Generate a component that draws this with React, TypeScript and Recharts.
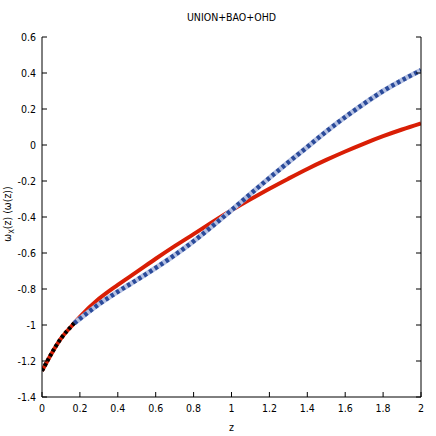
import { LineChart, Line, XAxis, YAxis } from "recharts";

const FONT = "'Liberation Sans Narrow', 'DejaVu Sans Condensed', 'Liberation Sans', sans-serif";

// redshift samples
const zValues = [0, 0.1, 0.17, 0.2, 0.3, 0.4, 0.5, 0.6, 0.7, 0.8, 0.9, 1.0, 1.1, 1.2, 1.3, 1.4, 1.5, 1.6, 1.7, 1.8, 1.9, 2.0];
// red solid curve
const redCurve = [-1.255, -1.075, -0.99, -0.955, -0.855, -0.777, -0.705, -0.632, -0.562, -0.495, -0.428, -0.363, -0.302, -0.243, -0.187, -0.133, -0.083, -0.036, 0.008, 0.049, 0.086, 0.12];
// blue dashed curve (starts where the black segment ends)
const blueCurve = [null, null, -0.99, -0.965, -0.885, -0.815, -0.75, -0.683, -0.612, -0.535, -0.45, -0.362, -0.272, -0.183, -0.096, -0.011, 0.075, 0.155, 0.23, 0.3, 0.36, 0.415];
// black dashed segment at low z
const blackCurve = [-1.255, -1.075, -0.99, null, null, null, null, null, null, null, null, null, null, null, null, null, null, null, null, null, null, null];

const xTicks = [0, 0.2, 0.4, 0.6, 0.8, 1, 1.2, 1.4, 1.6, 1.8, 2];
const yTicks = [-1.4, -1.2, -1, -0.8, -0.6, -0.4, -0.2, 0, 0.2, 0.4, 0.6];

const data = zValues.map((z, i) => ({
  z,
  red: redCurve[i],
  blue: blueCurve[i],
  black: blackCurve[i],
}));

const fmt = (v: number) => String(Math.round(v * 10) / 10);

const BottomTick = ({ x, y, payload }: any) => (
  <g>
    <line x1={x} x2={x} y1={y} y2={y - 5} stroke="#000" />
    <text x={x} y={y + 15} textAnchor="middle" fontSize={10.5} fontFamily={FONT} fill="#000">
      {fmt(payload.value)}
    </text>
  </g>
);

const TopTick = ({ x, y }: any) => <line x1={x} x2={x} y1={y} y2={y + 5} stroke="#000" />;

const LeftTick = ({ x, y, payload }: any) => (
  <g>
    <line x1={x} x2={x + 5} y1={y} y2={y} stroke="#000" />
    <text x={x - 6} y={y + 4} textAnchor="end" fontSize={10.5} fontFamily={FONT} fill="#000">
      {fmt(payload.value)}
    </text>
  </g>
);

const RightTick = ({ x, y }: any) => <line x1={x} x2={x - 5} y1={y} y2={y} stroke="#000" />;

export default function App() {
  return (
    <div style={{ position: "absolute", left: 0, top: 0, width: 436, height: 436, background: "#fff" }}>
      <div
        style={{
          position: "absolute",
          left: 0,
          width: 463,
          top: 11,
          textAlign: "center",
          fontFamily: FONT,
          fontSize: 10.5,
        }}
      >
        UNION+BAO+OHD
      </div>
      <div
        style={{
          position: "absolute",
          left: 0,
          width: 463,
          top: 421,
          textAlign: "center",
          fontFamily: FONT,
          fontSize: 10.5,
        }}
      >
        z
      </div>
      <svg style={{ position: "absolute", left: 0, top: 0 }} width={30} height={436}>
        <text
          x={11}
          y={214}
          transform="rotate(-90, 11, 214)"
          textAnchor="middle"
          fontFamily={FONT}
          fontSize={10.5}
          fill="#000"
        >
          ω<tspan fontSize={7.5} dy={3}>X</tspan>
          <tspan dy={-3}>(z) (ω(z))</tspan>
        </text>
      </svg>
      <div style={{ position: "absolute", left: 0, top: 0 }}>
        <LineChart width={436} height={436} data={data} margin={{ top: 37, right: 10, bottom: 9, left: 0 }}>
          <XAxis
            dataKey="z"
            type="number"
            domain={[0, 2]}
            ticks={xTicks}
            allowDataOverflow
            height={30}
            tickSize={0}
            tickMargin={0}
            tickLine={false}
            axisLine={{ stroke: "#000" }}
            tick={<BottomTick />}
            interval={0}
          />
          <XAxis
            xAxisId="top"
            orientation="top"
            dataKey="z"
            type="number"
            domain={[0, 2]}
            ticks={xTicks}
            allowDataOverflow
            height={0}
            tickSize={0}
            tickMargin={0}
            tickLine={false}
            axisLine={{ stroke: "#000" }}
            tick={<TopTick />}
            interval={0}
          />
          <YAxis
            type="number"
            domain={[-1.4, 0.6]}
            ticks={yTicks}
            allowDataOverflow
            width={42}
            tickSize={0}
            tickMargin={0}
            tickLine={false}
            axisLine={{ stroke: "#000" }}
            tick={<LeftTick />}
            interval={0}
          />
          <YAxis
            yAxisId="right"
            orientation="right"
            type="number"
            domain={[-1.4, 0.6]}
            ticks={yTicks}
            allowDataOverflow
            width={5}
            tickSize={0}
            tickMargin={0}
            tickLine={false}
            axisLine={{ stroke: "#000" }}
            tick={<RightTick />}
            interval={0}
          />
          <Line
            type="monotone"
            dataKey="red"
            stroke="#d91e05"
            strokeWidth={4}
            dot={false}
            isAnimationActive={false}
          />
          <Line
            type="monotone"
            dataKey="blue"
            stroke="#b4c0e2"
            strokeWidth={5}
            dot={false}
            isAnimationActive={false}
          />
          <Line
            type="monotone"
            dataKey="blue"
            stroke="#2a4a9a"
            strokeWidth={4.5}
            strokeDasharray="3.5 3"
            dot={false}
            isAnimationActive={false}
          />
          <Line
            type="monotone"
            dataKey="black"
            stroke="#000"
            strokeWidth={4}
            strokeDasharray="3 2.5"
            dot={false}
            isAnimationActive={false}
          />
        </LineChart>
      </div>
    </div>
  );
}
